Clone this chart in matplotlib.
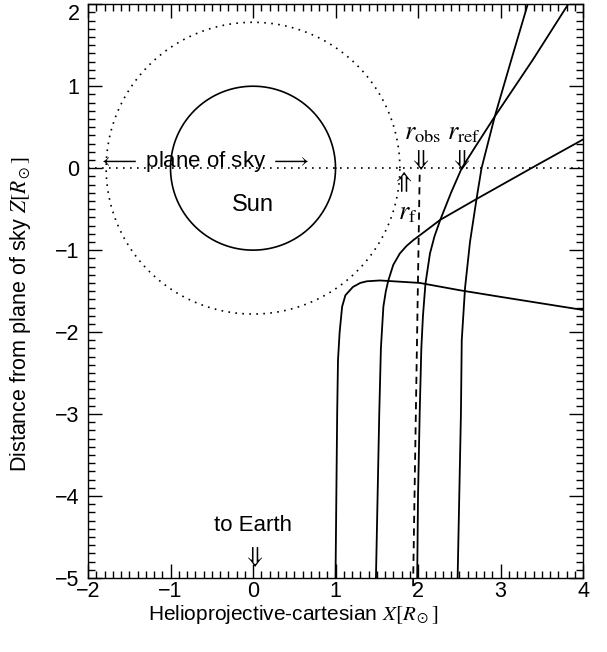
import numpy as np
import matplotlib
matplotlib.use("Agg")
import matplotlib.pyplot as plt
from matplotlib.ticker import MultipleLocator

plt.rcParams['font.family'] = ['Liberation Sans', 'DejaVu Sans']
plt.rcParams['mathtext.fontset'] = 'stix'

# ---- data ----
ray1_x = [1.00, 1.01, 1.02, 1.03, 1.05, 1.08, 1.12, 1.21, 1.30, 1.38, 1.54, 2.02, 2.51, 3.00, 3.50, 4.00]
ray1_z = [-5.0, -4.0, -3.0, -2.34, -2.0, -1.69, -1.55, -1.45, -1.40, -1.38, -1.37, -1.40, -1.49, -1.57, -1.65, -1.73]

ray2_x = [1.49, 1.51, 1.53, 1.55, 1.58, 1.61, 1.64, 1.70, 1.78, 1.86, 1.94, 2.02, 2.27, 2.72, 3.48, 4.00]
ray2_z = [-5.0, -4.0, -3.0, -2.2, -1.69, -1.50, -1.37, -1.18, -1.04, -0.95, -0.88, -0.82, -0.63, -0.37, 0.06, 0.35]

ray3_x = [1.99, 2.00, 2.02, 2.04, 2.06, 2.09, 2.145, 2.20, 2.27, 2.40, 2.53, 2.70, 2.93, 3.39, 3.82]
ray3_z = [-5.0, -4.0, -3.0, -2.2, -1.8, -1.41, -1.04, -0.83, -0.63, -0.30, 0.0, 0.27, 0.63, 1.32, 2.0]

ray4_x = [2.48, 2.50, 2.52, 2.53, 2.57, 2.63, 2.71, 2.77, 2.93, 3.13, 3.33]
ray4_z = [-5.0, -4.0, -3.0, -2.1, -1.46, -0.90, -0.37, 0.0, 0.63, 1.32, 2.0]

los_x = [1.94, 2.02]
los_z = [-5.1, -0.08]

sun_radius = 1.0
fcorona_radius = 1.78

xticks = [-2, -1, 0, 1, 2, 3, 4]
yticks = [-5, -4, -3, -2, -1, 0, 1, 2]

fig = plt.figure(figsize=(6.07, 6.52), dpi=100)
ax = fig.add_axes([0.145, 0.1135, 0.8155, 0.880])

lw = 1.3
for xs, zs in [(ray1_x, ray1_z), (ray2_x, ray2_z), (ray3_x, ray3_z), (ray4_x, ray4_z)]:
    ax.plot(xs, zs, color='black', lw=lw)

ax.plot(los_x, los_z, color='black', lw=1.3, ls=(0, (4, 3)), clip_on=False)

t = np.linspace(0, 2 * np.pi, 400)
ax.plot(sun_radius * np.cos(t), sun_radius * np.sin(t), color='black', lw=1.2)
ax.plot(fcorona_radius * np.cos(t), fcorona_radius * np.sin(t), color='black', lw=1.2,
        ls=(0, (1, 3.2)))
ax.axhline(0, color='black', lw=1.2, ls=(0, (1, 3.2)))

ax.set_xlim(-2, 4)
ax.set_ylim(-5, 2)
ax.set_xticks(xticks)
ax.set_yticks(yticks)
ax.set_xticklabels([str(v).replace('-', '\u2212') for v in xticks])
ylabs = ax.set_yticklabels([str(v).replace('-', '\u2212') for v in yticks])
ylabs[-1].set_va('top')
ax.xaxis.set_minor_locator(MultipleLocator(0.1))
ax.yaxis.set_minor_locator(MultipleLocator(0.1))
ax.tick_params(which='both', direction='in', top=True, right=True, width=1, labelsize=15.5)
ax.tick_params(which='major', length=10)
ax.tick_params(axis='x', which='major', pad=2)
ax.tick_params(axis='y', which='major', pad=6)
ax.tick_params(which='minor', length=5)
for s in ax.spines.values():
    s.set_linewidth(1.0)

ax.set_xlabel(r'Helioprojective-cartesian $X[R_\odot]$', fontsize=15)
ax.set_ylabel(r'Distance from plane of sky $Z[R_\odot]$', fontsize=15.5)
ax.xaxis.set_label_coords(0.414, -0.043)
ax.yaxis.set_label_coords(-0.112, 0.46)

ax.text(0, -0.45, 'Sun', ha='center', va='center', fontsize=17)
ax.text(-0.6, 0.02, r'$\longleftarrow$ plane of sky $\longrightarrow$', ha='center',
        va='baseline', fontsize=16)
ax.text(0, -4.36, 'to Earth', ha='center', va='center', fontsize=16)
ax.text(0, -4.74, r'$\Downarrow$', ha='center', va='center', fontsize=17)

ax.text(2.05, 0.35, r'$r_{\rm obs}$', ha='center', va='baseline', fontsize=19)
ax.text(2.02, 0.10, r'$\Downarrow$', ha='center', va='center', fontsize=17)
ax.text(2.56, 0.35, r'$r_{\rm ref}$', ha='center', va='baseline', fontsize=19)
ax.text(2.51, 0.10, r'$\Downarrow$', ha='center', va='center', fontsize=17)
ax.text(1.81, -0.17, r'$\Uparrow$', ha='center', va='center', fontsize=17)
ax.text(1.88, -0.62, r'$r_{\rm f}$', ha='center', va='baseline', fontsize=19)

fig.savefig('out.png', dpi=100)
